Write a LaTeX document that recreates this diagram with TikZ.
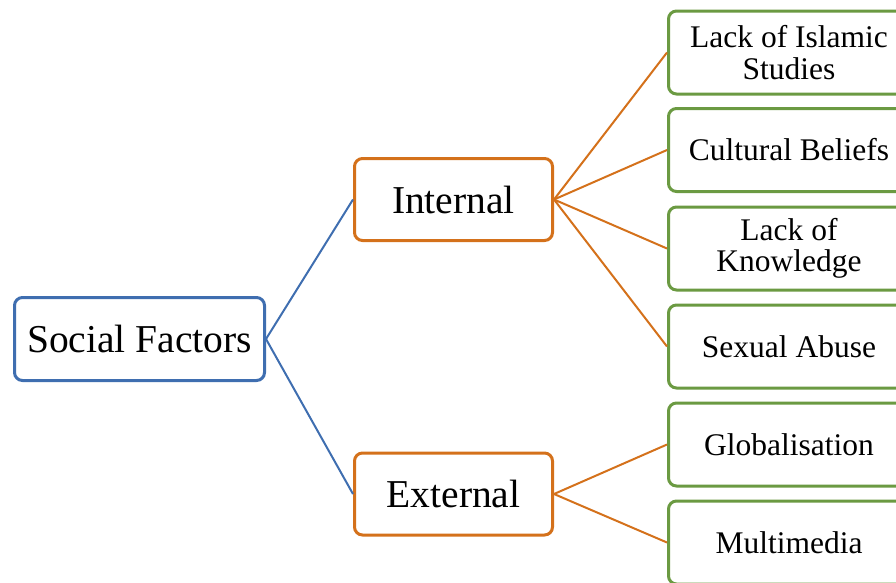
\documentclass[tikz,border=0pt]{standalone}
\usepackage{fontspec}
\setmainfont{Liberation Serif}
\usetikzlibrary{positioning}
\definecolor{rootblue}{HTML}{3F6EB0}
\definecolor{midorange}{HTML}{D4711B}
\definecolor{leafgreen}{HTML}{6B9A42}
\begin{document}
\begin{tikzpicture}[x=1pt,y=-1pt]
		\tikzset{root/.style = {shape=rectangle,draw=rootblue,line width=3pt,rounded corners=8pt,fill=white,minimum width=250pt,minimum height=83pt,inner sep=0pt,font=\fontsize{39.5}{40}\selectfont}}
		\tikzset{branch/.style = {root,draw=midorange,minimum width=198pt,minimum height=82pt}}
		\tikzset{leaf/.style = {root,draw=leafgreen,minimum width=241pt,minimum height=83pt,align=center,font=\fontsize{31.5}{31.5}\selectfont}}
		\tikzset{edge/.style = {line width=2pt}}
		\clip (0,0) rectangle (896,582);
		% vertices
		\node[root] (social) at (139.5,339) {Social Factors};
		\node[branch] (internal) at (453.5,199.5) {Internal};
		\node[branch] (external) at (453.5,494) {External};
		
		\node[leaf] (islamic) at (789,52.5) {Lack of Islamic\\Studies};
		\node[leaf] (cultural) at (789,150) {Cultural Beliefs};
		\node[leaf] (knowledge) at (789,248.5) {Lack of\\Knowledge};
		\node[leaf] (abuse) at (789,346.5) {Sexual Abuse};
		\node[leaf] (global) at (789,444.5) {Globalisation};
		\node[leaf] (media) at (789,542.5) {Multimedia};
		
		%edges
		\draw[edge,rootblue] (social.east) -- (internal.west);
		\draw[edge,rootblue] (social.east) -- (external.west);
		
		\draw[edge,midorange] (internal.east) -- (islamic.west);
		\draw[edge,midorange] (internal.east) -- (cultural.west);
		\draw[edge,midorange] (internal.east) -- (knowledge.west);
		\draw[edge,midorange] (internal.east) -- (abuse.west);
		
		\draw[edge,midorange] (external.east) -- (global.west);
		\draw[edge,midorange] (external.east) -- (media.west);
		
		\end{tikzpicture}
\end{document}
